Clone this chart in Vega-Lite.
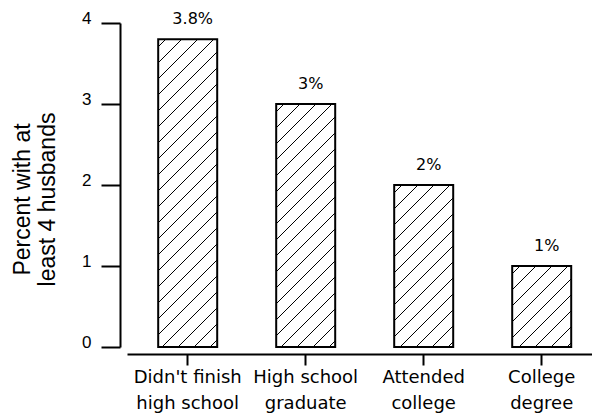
{
  "$schema": "https://vega.github.io/schema/vega-lite/v6.json",
  "autosize": {"type": "none"},
  "width": 465,
  "height": 324,
  "padding": {"left": 127, "top": 23, "right": 0, "bottom": 70},
  "background": "white",
  "config": {"view": {"stroke": null}},
  "data": {"values": [
    {"level": "Didn't finish\nhigh school", "pct": 3.8, "label": "3.8%"},
    {"level": "High school\ngraduate", "pct": 3, "label": "3%"},
    {"level": "Attended\ncollege", "pct": 2, "label": "2%"},
    {"level": "College\ndegree", "pct": 1, "label": "1%"}
  ]},
  "encoding": {
    "x": {
      "field": "level", "type": "nominal", "sort": null,
      "scale": {"domain": ["Didn't finish\nhigh school", "High school\ngraduate", "Attended\ncollege", "College\ndegree"], "paddingInner": 0.5, "paddingOuter": 0.2203, "align": 0.6},
      "axis": {"title": null, "offset": 7, "domainColor": "black", "domainWidth": 2, "tickColor": "black", "tickWidth": 2, "tickSize": 11, "labelPadding": 3, "labelFont": "DejaVu Sans", "labelFontSize": 18, "labelLineHeight": 26, "labelColor": "black", "labelAngle": 0, "labelExpr": "split(datum.value, '\\n')"}
    },
    "y": {
      "field": "pct", "type": "quantitative",
      "scale": {"domain": [0, 4], "nice": false, "zero": true},
      "axis": {"values": [0, 1, 2, 3, 4], "grid": false, "offset": 7, "domainColor": "black", "domainWidth": 2, "tickColor": "black", "tickWidth": 2, "tickSize": 19, "labelPadding": 10, "labelFont": "Liberation Sans", "labelFontSize": 17, "labelColor": "black", "labelBaseline": "alphabetic", "labelFlush": false, "title": ["Percent with at", "least 4 husbands"], "titleFont": "Liberation Sans", "titleFontSize": 23, "titleFontWeight": "normal", "titleColor": "black", "titleX": -91, "titleY": 176, "titleAngle": -90, "titleAlign": "center", "titleBaseline": "alphabetic", "titleLineHeight": 25}
    }
  },
  "layer": [
    {
      "transform": [{"filter": "datum.pct === 3.8"}],
      "mark": {"type": "bar", "stroke": "black", "strokeWidth": 2, "fill": {"gradient": "linear", "x1": 0, "y1": 0, "x2": 0.22033, "y2": 1.14944, "stops": [
        {"offset": 0.020311, "color": "#fff"}, {"offset": 0.020311, "color": "#000"}, {"offset": 0.023310, "color": "#000"}, {"offset": 0.023310, "color": "#fff"},
        {"offset": 0.063932, "color": "#fff"}, {"offset": 0.063932, "color": "#000"}, {"offset": 0.066931, "color": "#000"}, {"offset": 0.066931, "color": "#fff"},
        {"offset": 0.107552, "color": "#fff"}, {"offset": 0.107552, "color": "#000"}, {"offset": 0.110551, "color": "#000"}, {"offset": 0.110551, "color": "#fff"},
        {"offset": 0.151173, "color": "#fff"}, {"offset": 0.151173, "color": "#000"}, {"offset": 0.154172, "color": "#000"}, {"offset": 0.154172, "color": "#fff"},
        {"offset": 0.194793, "color": "#fff"}, {"offset": 0.194793, "color": "#000"}, {"offset": 0.197792, "color": "#000"}, {"offset": 0.197792, "color": "#fff"},
        {"offset": 0.238414, "color": "#fff"}, {"offset": 0.238414, "color": "#000"}, {"offset": 0.241413, "color": "#000"}, {"offset": 0.241413, "color": "#fff"},
        {"offset": 0.282034, "color": "#fff"}, {"offset": 0.282034, "color": "#000"}, {"offset": 0.285033, "color": "#000"}, {"offset": 0.285033, "color": "#fff"},
        {"offset": 0.325655, "color": "#fff"}, {"offset": 0.325655, "color": "#000"}, {"offset": 0.328654, "color": "#000"}, {"offset": 0.328654, "color": "#fff"},
        {"offset": 0.369275, "color": "#fff"}, {"offset": 0.369275, "color": "#000"}, {"offset": 0.372274, "color": "#000"}, {"offset": 0.372274, "color": "#fff"},
        {"offset": 0.412896, "color": "#fff"}, {"offset": 0.412896, "color": "#000"}, {"offset": 0.415895, "color": "#000"}, {"offset": 0.415895, "color": "#fff"},
        {"offset": 0.456516, "color": "#fff"}, {"offset": 0.456516, "color": "#000"}, {"offset": 0.459515, "color": "#000"}, {"offset": 0.459515, "color": "#fff"},
        {"offset": 0.500137, "color": "#fff"}, {"offset": 0.500137, "color": "#000"}, {"offset": 0.503136, "color": "#000"}, {"offset": 0.503136, "color": "#fff"},
        {"offset": 0.543757, "color": "#fff"}, {"offset": 0.543757, "color": "#000"}, {"offset": 0.546756, "color": "#000"}, {"offset": 0.546756, "color": "#fff"},
        {"offset": 0.587378, "color": "#fff"}, {"offset": 0.587378, "color": "#000"}, {"offset": 0.590377, "color": "#000"}, {"offset": 0.590377, "color": "#fff"},
        {"offset": 0.630998, "color": "#fff"}, {"offset": 0.630998, "color": "#000"}, {"offset": 0.633997, "color": "#000"}, {"offset": 0.633997, "color": "#fff"},
        {"offset": 0.674619, "color": "#fff"}, {"offset": 0.674619, "color": "#000"}, {"offset": 0.677618, "color": "#000"}, {"offset": 0.677618, "color": "#fff"},
        {"offset": 0.718239, "color": "#fff"}, {"offset": 0.718239, "color": "#000"}, {"offset": 0.721238, "color": "#000"}, {"offset": 0.721238, "color": "#fff"},
        {"offset": 0.761860, "color": "#fff"}, {"offset": 0.761860, "color": "#000"}, {"offset": 0.764859, "color": "#000"}, {"offset": 0.764859, "color": "#fff"},
        {"offset": 0.805480, "color": "#fff"}, {"offset": 0.805480, "color": "#000"}, {"offset": 0.808479, "color": "#000"}, {"offset": 0.808479, "color": "#fff"},
        {"offset": 0.849101, "color": "#fff"}, {"offset": 0.849101, "color": "#000"}, {"offset": 0.852100, "color": "#000"}, {"offset": 0.852100, "color": "#fff"},
        {"offset": 0.892721, "color": "#fff"}, {"offset": 0.892721, "color": "#000"}, {"offset": 0.895720, "color": "#000"}, {"offset": 0.895720, "color": "#fff"},
        {"offset": 0.936342, "color": "#fff"}, {"offset": 0.936342, "color": "#000"}, {"offset": 0.939341, "color": "#000"}, {"offset": 0.939341, "color": "#fff"},
        {"offset": 0.979962, "color": "#fff"}, {"offset": 0.979962, "color": "#000"}, {"offset": 0.982961, "color": "#000"}, {"offset": 0.982961, "color": "#fff"}
      ]}}
    },
    {
      "transform": [{"filter": "datum.pct === 3"}],
      "mark": {"type": "bar", "stroke": "black", "strokeWidth": 2, "fill": {"gradient": "linear", "x1": 0, "y1": 0, "x2": 0.28495, "y2": 1.17362, "stops": [
        {"offset": 0.024669, "color": "#fff"}, {"offset": 0.024669, "color": "#000"}, {"offset": 0.028311, "color": "#000"}, {"offset": 0.028311, "color": "#fff"},
        {"offset": 0.077649, "color": "#fff"}, {"offset": 0.077649, "color": "#000"}, {"offset": 0.081291, "color": "#000"}, {"offset": 0.081291, "color": "#fff"},
        {"offset": 0.130629, "color": "#fff"}, {"offset": 0.130629, "color": "#000"}, {"offset": 0.134271, "color": "#000"}, {"offset": 0.134271, "color": "#fff"},
        {"offset": 0.183609, "color": "#fff"}, {"offset": 0.183609, "color": "#000"}, {"offset": 0.187251, "color": "#000"}, {"offset": 0.187251, "color": "#fff"},
        {"offset": 0.236589, "color": "#fff"}, {"offset": 0.236589, "color": "#000"}, {"offset": 0.240231, "color": "#000"}, {"offset": 0.240231, "color": "#fff"},
        {"offset": 0.289570, "color": "#fff"}, {"offset": 0.289570, "color": "#000"}, {"offset": 0.293212, "color": "#000"}, {"offset": 0.293212, "color": "#fff"},
        {"offset": 0.342550, "color": "#fff"}, {"offset": 0.342550, "color": "#000"}, {"offset": 0.346192, "color": "#000"}, {"offset": 0.346192, "color": "#fff"},
        {"offset": 0.395530, "color": "#fff"}, {"offset": 0.395530, "color": "#000"}, {"offset": 0.399172, "color": "#000"}, {"offset": 0.399172, "color": "#fff"},
        {"offset": 0.448510, "color": "#fff"}, {"offset": 0.448510, "color": "#000"}, {"offset": 0.452152, "color": "#000"}, {"offset": 0.452152, "color": "#fff"},
        {"offset": 0.501490, "color": "#fff"}, {"offset": 0.501490, "color": "#000"}, {"offset": 0.505132, "color": "#000"}, {"offset": 0.505132, "color": "#fff"},
        {"offset": 0.554470, "color": "#fff"}, {"offset": 0.554470, "color": "#000"}, {"offset": 0.558112, "color": "#000"}, {"offset": 0.558112, "color": "#fff"},
        {"offset": 0.607450, "color": "#fff"}, {"offset": 0.607450, "color": "#000"}, {"offset": 0.611092, "color": "#000"}, {"offset": 0.611092, "color": "#fff"},
        {"offset": 0.660430, "color": "#fff"}, {"offset": 0.660430, "color": "#000"}, {"offset": 0.664072, "color": "#000"}, {"offset": 0.664072, "color": "#fff"},
        {"offset": 0.713411, "color": "#fff"}, {"offset": 0.713411, "color": "#000"}, {"offset": 0.717053, "color": "#000"}, {"offset": 0.717053, "color": "#fff"},
        {"offset": 0.766391, "color": "#fff"}, {"offset": 0.766391, "color": "#000"}, {"offset": 0.770033, "color": "#000"}, {"offset": 0.770033, "color": "#fff"},
        {"offset": 0.819371, "color": "#fff"}, {"offset": 0.819371, "color": "#000"}, {"offset": 0.823013, "color": "#000"}, {"offset": 0.823013, "color": "#fff"},
        {"offset": 0.872351, "color": "#fff"}, {"offset": 0.872351, "color": "#000"}, {"offset": 0.875993, "color": "#000"}, {"offset": 0.875993, "color": "#fff"},
        {"offset": 0.925331, "color": "#fff"}, {"offset": 0.925331, "color": "#000"}, {"offset": 0.928973, "color": "#000"}, {"offset": 0.928973, "color": "#fff"},
        {"offset": 0.978311, "color": "#fff"}, {"offset": 0.978311, "color": "#000"}, {"offset": 0.981953, "color": "#000"}, {"offset": 0.981953, "color": "#fff"}
      ]}}
    },
    {
      "transform": [{"filter": "datum.pct === 2"}],
      "mark": {"type": "bar", "stroke": "black", "strokeWidth": 2, "fill": {"gradient": "linear", "x1": 0, "y1": 0, "x2": 0.43866, "y2": 1.20444, "stops": [
        {"offset": 0.033710, "color": "#fff"}, {"offset": 0.033710, "color": "#000"}, {"offset": 0.038688, "color": "#000"}, {"offset": 0.038688, "color": "#fff"},
        {"offset": 0.106109, "color": "#fff"}, {"offset": 0.106109, "color": "#000"}, {"offset": 0.111086, "color": "#000"}, {"offset": 0.111086, "color": "#fff"},
        {"offset": 0.178507, "color": "#fff"}, {"offset": 0.178507, "color": "#000"}, {"offset": 0.183484, "color": "#000"}, {"offset": 0.183484, "color": "#fff"},
        {"offset": 0.250905, "color": "#fff"}, {"offset": 0.250905, "color": "#000"}, {"offset": 0.255882, "color": "#000"}, {"offset": 0.255882, "color": "#fff"},
        {"offset": 0.323303, "color": "#fff"}, {"offset": 0.323303, "color": "#000"}, {"offset": 0.328281, "color": "#000"}, {"offset": 0.328281, "color": "#fff"},
        {"offset": 0.395701, "color": "#fff"}, {"offset": 0.395701, "color": "#000"}, {"offset": 0.400679, "color": "#000"}, {"offset": 0.400679, "color": "#fff"},
        {"offset": 0.468100, "color": "#fff"}, {"offset": 0.468100, "color": "#000"}, {"offset": 0.473077, "color": "#000"}, {"offset": 0.473077, "color": "#fff"},
        {"offset": 0.540498, "color": "#fff"}, {"offset": 0.540498, "color": "#000"}, {"offset": 0.545475, "color": "#000"}, {"offset": 0.545475, "color": "#fff"},
        {"offset": 0.612896, "color": "#fff"}, {"offset": 0.612896, "color": "#000"}, {"offset": 0.617873, "color": "#000"}, {"offset": 0.617873, "color": "#fff"},
        {"offset": 0.685294, "color": "#fff"}, {"offset": 0.685294, "color": "#000"}, {"offset": 0.690271, "color": "#000"}, {"offset": 0.690271, "color": "#fff"},
        {"offset": 0.757692, "color": "#fff"}, {"offset": 0.757692, "color": "#000"}, {"offset": 0.762670, "color": "#000"}, {"offset": 0.762670, "color": "#fff"},
        {"offset": 0.830090, "color": "#fff"}, {"offset": 0.830090, "color": "#000"}, {"offset": 0.835068, "color": "#000"}, {"offset": 0.835068, "color": "#fff"},
        {"offset": 0.902489, "color": "#fff"}, {"offset": 0.902489, "color": "#000"}, {"offset": 0.907466, "color": "#000"}, {"offset": 0.907466, "color": "#fff"},
        {"offset": 0.974887, "color": "#fff"}, {"offset": 0.974887, "color": "#000"}, {"offset": 0.979864, "color": "#000"}, {"offset": 0.979864, "color": "#fff"}
      ]}}
    },
    {
      "transform": [{"filter": "datum.pct === 1"}],
      "mark": {"type": "bar", "stroke": "black", "strokeWidth": 2, "fill": {"gradient": "linear", "x1": 0, "y1": 0, "x2": 0.82254, "y2": 1.12925, "stops": [
        {"offset": 0.05321, "color": "#fff"}, {"offset": 0.05321, "color": "#000"}, {"offset": 0.06107, "color": "#000"}, {"offset": 0.06107, "color": "#fff"},
        {"offset": 0.16750, "color": "#fff"}, {"offset": 0.16750, "color": "#000"}, {"offset": 0.17536, "color": "#000"}, {"offset": 0.17536, "color": "#fff"},
        {"offset": 0.28179, "color": "#fff"}, {"offset": 0.28179, "color": "#000"}, {"offset": 0.28964, "color": "#000"}, {"offset": 0.28964, "color": "#fff"},
        {"offset": 0.39607, "color": "#fff"}, {"offset": 0.39607, "color": "#000"}, {"offset": 0.40393, "color": "#000"}, {"offset": 0.40393, "color": "#fff"},
        {"offset": 0.51036, "color": "#fff"}, {"offset": 0.51036, "color": "#000"}, {"offset": 0.51821, "color": "#000"}, {"offset": 0.51821, "color": "#fff"},
        {"offset": 0.62464, "color": "#fff"}, {"offset": 0.62464, "color": "#000"}, {"offset": 0.63250, "color": "#000"}, {"offset": 0.63250, "color": "#fff"},
        {"offset": 0.73893, "color": "#fff"}, {"offset": 0.73893, "color": "#000"}, {"offset": 0.74679, "color": "#000"}, {"offset": 0.74679, "color": "#fff"},
        {"offset": 0.85321, "color": "#fff"}, {"offset": 0.85321, "color": "#000"}, {"offset": 0.86107, "color": "#000"}, {"offset": 0.86107, "color": "#fff"},
        {"offset": 0.96750, "color": "#fff"}, {"offset": 0.96750, "color": "#000"}, {"offset": 0.97536, "color": "#000"}, {"offset": 0.97536, "color": "#fff"}
      ]}}
    },
    {
      "mark": {"type": "text", "font": "DejaVu Sans", "fontSize": 16, "color": "black", "baseline": "alphabetic", "align": "center", "dy": -15, "dx": 5},
      "encoding": {"text": {"field": "label", "type": "nominal"}}
    }
  ]
}
